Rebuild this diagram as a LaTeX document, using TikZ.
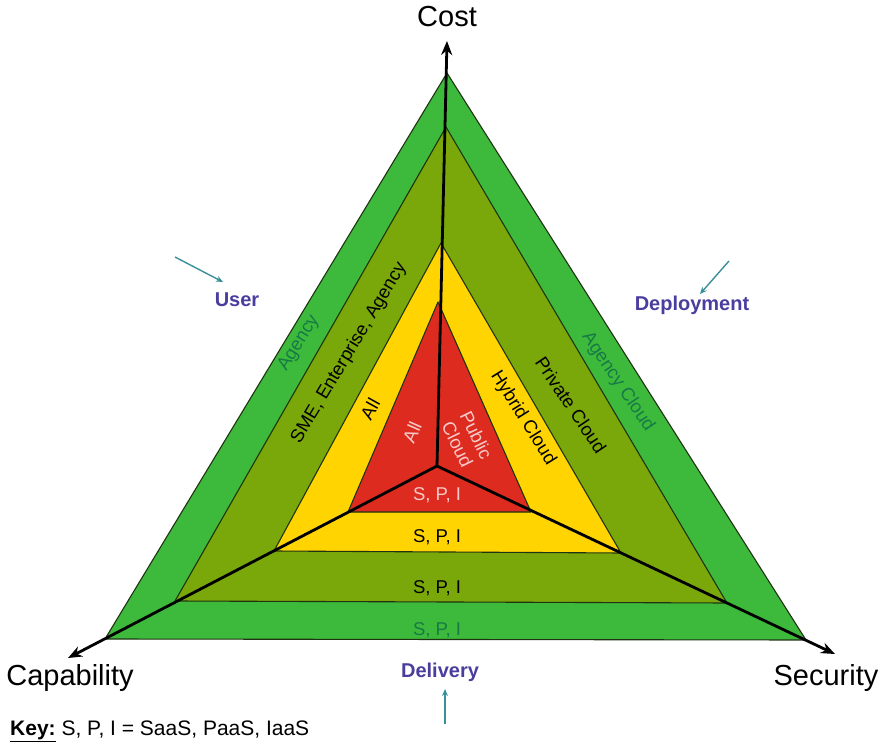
\documentclass[tikz,border=0pt]{standalone}
\usepackage{fontspec}
\setmainfont{Liberation Sans}
\usetikzlibrary{arrows.meta}

\definecolor{outergreen}{HTML}{3DBA3C}
\definecolor{olivegreen}{HTML}{7AA80A}
\definecolor{bandyellow}{HTML}{FFD400}
\definecolor{corered}{HTML}{DD2C1F}
\definecolor{edgeline}{HTML}{1F3312}
\definecolor{greentext}{HTML}{177A45}
\definecolor{pinktext}{HTML}{F6CACA}
\definecolor{labelblue}{HTML}{4A3D9E}
\definecolor{tealarrow}{HTML}{3C8E98}

\begin{document}
\begin{tikzpicture}[x=1pt,y=-1pt,
    layer/.style={draw=edgeline, line width=1.1pt, line join=round},
    axis/.style={line width=2.8pt, -{Stealth[length=14pt,width=11pt]}},
    pointer/.style={draw=tealarrow, line width=1.4pt, -{Stealth[length=7pt,width=6pt]}},
    band/.style={font=\fontsize{18.5}{21}\selectfont, inner sep=0pt},
    axislabel/.style={font=\fontsize{29}{32}\selectfont, inner sep=0pt},
    heading/.style={font=\fontsize{20}{23}\selectfont\bfseries, text=labelblue, inner sep=0pt}]
    \useasboundingbox (0,0) rectangle (887,746);

    % corners of the four layers
    \coordinate (outertop) at (447,73);
    \coordinate (outerleft) at (105,639);
    \coordinate (outerright) at (806,640);
    \coordinate (olivetop) at (446,127);
    \coordinate (oliveleft) at (175,601);
    \coordinate (oliveright) at (727,603);
    \coordinate (yellowtop) at (441,243);
    \coordinate (yellowleft) at (274,551);
    \coordinate (yellowright) at (621,553);
    \coordinate (redtop) at (438,302);
    \coordinate (redleft) at (348,512);
    \coordinate (redright) at (531,512);

    \filldraw[layer, fill=outergreen] (outertop) -- (outerleft) -- (outerright) -- cycle;
    \filldraw[layer, fill=olivegreen] (olivetop) -- (oliveleft) -- (oliveright) -- cycle;
    \filldraw[layer, fill=bandyellow] (yellowtop) -- (yellowleft) -- (yellowright) -- cycle;
    \filldraw[layer, fill=corered] (redtop) -- (redleft) -- (redright) -- cycle;

    % axes
    \coordinate (O) at (437,466);
    \coordinate (costtip) at (447,41);
    \coordinate (capabilitytip) at (68,658);
    \coordinate (securitytip) at (835,654);
    \draw[axis] (O) -- (costtip);
    \draw[axis] (O) -- (capabilitytip);
    \draw[axis] (O) -- (securitytip);

    \node[axislabel] (cost) at (447,17) {Cost};
    \node[axislabel] (capability) at (70,678) {Capability};
    \node[axislabel] (security) at (826,678) {Security};

    \node[heading] (user) at (237,300) {User};
    \node[heading] (deployment) at (692,305) {Deployment};
    \node[heading] (delivery) at (440,672) {Delivery};
    \coordinate (userfrom) at (175,257);
    \coordinate (userto) at (223,282);
    \coordinate (deployfrom) at (729,261);
    \coordinate (deployto) at (700,294);
    \coordinate (deliveryfrom) at (445,724);
    \coordinate (deliveryto) at (445,689);
    \draw[pointer] (userfrom) -- (userto);
    \draw[pointer] (deployfrom) -- (deployto);
    \draw[pointer] (deliveryfrom) -- (deliveryto);

    % left side
    \node[band, text=greentext, rotate=58] (agencyuser) at (299,343) {Agency};
    \node[band, rotate=59] (sme) at (349,353) {SME, Enterprise, Agency};
    \node[band, rotate=61] (allyellow) at (370,409) {All};
    \node[band, text=pinktext, rotate=66] (allred) at (412,432) {All};
    % right side
    \node[band, text=pinktext, rotate=-64, align=center] (public) at (467,440) {Public\\Cloud};
    \node[band, rotate=-58] (hybrid) at (523,418) {Hybrid Cloud};
    \node[band, rotate=-56] (private) at (571,405) {Private Cloud};
    \node[band, text=greentext, rotate=-56] (agencycloud) at (618,382) {Agency Cloud};
    % bottom
    \node[band, text=pinktext] (spired) at (437,495) {S, P, I};
    \node[band] (spiyellow) at (437,537) {S, P, I};
    \node[band] (spiolive) at (437,588) {S, P, I};
    \node[band, text=greentext] (spigreen) at (437,630) {S, P, I};

    \node[anchor=west, inner sep=0pt, font=\fontsize{21}{23}\selectfont] (key) at (10,731)
        {\textbf{\underline{Key:}} S, P, I = SaaS, PaaS, IaaS};
\end{tikzpicture}
\end{document}
